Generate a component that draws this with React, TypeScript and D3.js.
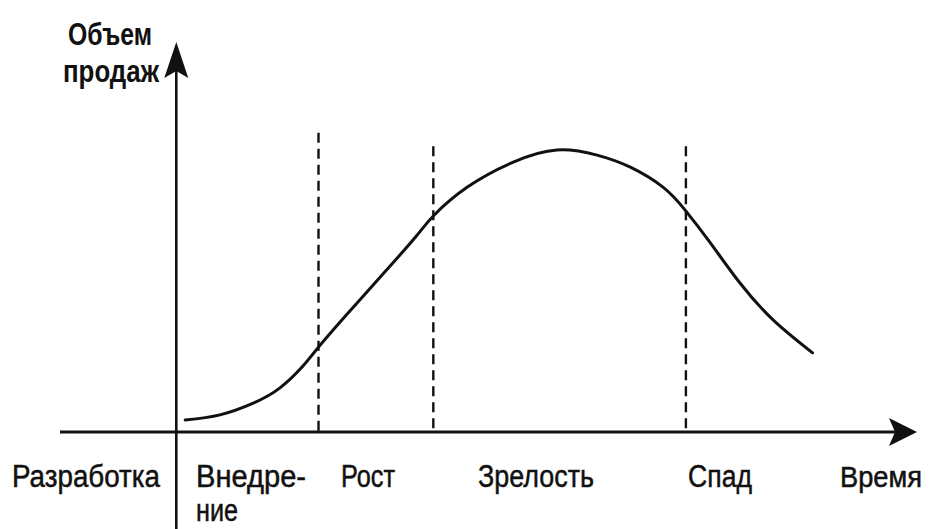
import React from 'react';
import * as d3 from 'd3';

// sales volume over time (arbitrary units)
const timePoints = [1.2, 5.9, 10.4, 14.0, 17.1, 19.0, 23.1, 27.9, 32.3, 34.7, 39.3, 45.5, 51.4, 56.8, 61.3, 65.7, 68.7, 72.1, 76.1, 80.6, 85.9];
const salesValues = [3.1, 4.4, 7.4, 11.3, 16.9, 21.3, 30.3, 40.5, 50.0, 55.4, 62.8, 69.2, 72.3, 71.0, 67.9, 62.8, 56.9, 48.5, 38.2, 28.7, 20.3];

// phase borders (time) and how high their dashed lines go (sales)
const phaseBorders = [19.2, 34.7, 68.8];
const borderTops = [76.7, 73.3, 73.3];

const phaseLabels = ['Разработка', 'Внедре-', 'Рост', 'Зрелость', 'Спад', 'Время'];
const yTitle = ['Объем', 'продаж'];

type Pt = { t: number; s: number };

const W = 931;
const H = 529;
const FONT = '"Liberation Sans Narrow", "Arial Narrow", "Liberation Sans", Arial, sans-serif';

export default function App() {
    const x = d3.scaleLinear().domain([-15.7, 100]).range([60, 917]);
    const y = d3.scaleLinear().domain([0, 100]).range([432, 42]);

    const data: Pt[] = timePoints.map((t, i) => ({ t, s: salesValues[i] }));
    const line = d3.line<Pt>()
        .x((d) => x(d.t))
        .y((d) => y(d.s))
        .curve(d3.curveNatural);

    const x0 = x(0);
    const y0 = y(0);
    const xEnd = x(100);
    const yEnd = y(100);

    // label layout: [left, baseline, width, size]
    const labelBoxes: [number, number, number, number][] = [
        [12, 487, 148, 31],
        [196, 487, 110, 31],
        [341, 487, 54, 31],
        [478, 487, 116, 31],
        [688, 487, 64, 31],
        [840, 487, 82, 29],
    ];

    return (
        <svg width={W} height={H} style={{ display: 'block', position: 'absolute', left: 0, top: 0, background: '#fff' }}>
            {/* y axis */}
            <line x1={x0} x2={x0} y1={H} y2={yEnd + 20} stroke="#111" strokeWidth={2.6} />
            <path d={`M${x0},${yEnd} L${x0 + 12},${yEnd + 36} L${x0},${yEnd + 29} L${x0 - 12},${yEnd + 36} Z`} fill="#111" />
            {/* x axis */}
            <line x1={x(-15.7)} x2={xEnd - 20} y1={y0} y2={y0} stroke="#111" strokeWidth={2.8} />
            <path d={`M${xEnd},${y0} L${xEnd - 28},${y0 - 14} L${xEnd - 22},${y0} L${xEnd - 28},${y0 + 14} Z`} fill="#111" />

            {/* phase borders */}
            {phaseBorders.map((t, i) => (
                <line key={i} x1={x(t)} x2={x(t)} y1={y(borderTops[i])} y2={y0}
                    stroke="#111" strokeWidth={2.4} strokeDasharray="10,6" />
            ))}

            {/* life cycle curve */}
            <path d={line(data) ?? ''} fill="none" stroke="#111" strokeWidth={3} strokeLinecap="round" />

            {/* y title */}
            <g fontFamily={FONT} fontWeight="bold" fontSize={31} fill="#111">
                <text x={68} y={45} textLength={84} lengthAdjust="spacingAndGlyphs">{yTitle[0]}</text>
                <text x={63} y={82} textLength={96} lengthAdjust="spacingAndGlyphs">{yTitle[1]}</text>
            </g>

            {/* phase labels */}
            <g fontFamily={FONT} fill="#111" stroke="#111" strokeWidth={0.5}>
                {phaseLabels.map((lab, i) => (
                    <text key={lab} x={labelBoxes[i][0]} y={labelBoxes[i][1]} fontSize={labelBoxes[i][3]}
                        textLength={labelBoxes[i][2]} lengthAdjust="spacingAndGlyphs">{lab}</text>
                ))}
                <text x={196} y={521} fontSize={31} textLength={42} lengthAdjust="spacingAndGlyphs">ние</text>
            </g>
        </svg>
    );
}
